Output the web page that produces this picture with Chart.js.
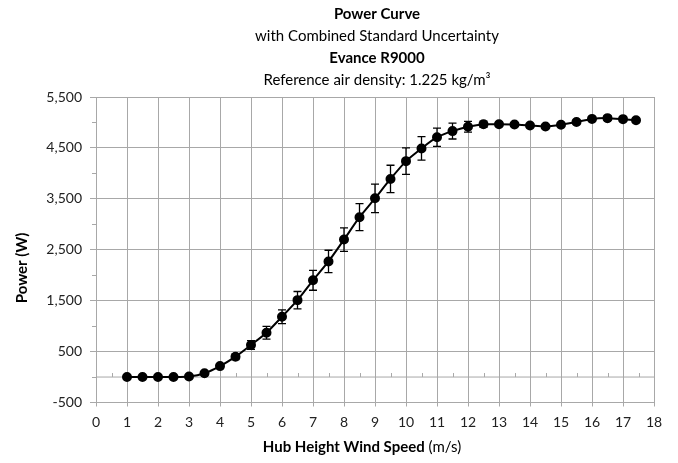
<!DOCTYPE html>
<html>
<head>
<meta charset="utf-8">
<script src="https://cdn.jsdelivr.net/npm/chart.js@4"></script>
<style>
  html, body { margin: 0; padding: 0; background: #fff; }
  canvas { display: block; }
</style>
</head>
<body>
<canvas id="chart" width="678" height="463"></canvas>
<script>
// wind speed bins (m/s)
const windSpeed = [1, 1.5, 2, 2.5, 3, 3.5, 4, 4.5, 5, 5.5, 6, 6.5, 7, 7.5, 8, 8.5, 9, 9.5,
    10, 10.5, 11, 11.5, 12, 12.5, 13, 13.5, 14, 14.5, 15, 15.5, 16, 16.5, 17, 17.42];
// measured power (W)
const power = [0, 0, 0, 0, 10, 75, 215, 400, 630, 870, 1185, 1510, 1900, 2270, 2700, 3140, 3510, 3890,
    4240, 4490, 4710, 4830, 4915, 4965, 4965, 4960, 4940, 4920, 4955, 5010, 5070, 5085, 5065, 5045];
// combined standard uncertainty (W)
const uncertainty = [5, 5, 5, 5, 10, 20, 35, 55, 85, 125, 135, 170, 195, 220, 230, 265, 280, 270,
    260, 230, 180, 155, 105, 60, 40, 35, 30, 30, 30, 35, 40, 45, 35, 40];

const titleLines = [
    { text: 'Power Curve', bold: true },
    { text: 'with Combined Standard Uncertainty', bold: false },
    { text: 'Evance R9000', bold: true },
    { text: 'Reference air density: 1.225 kg/m³', bold: false }
];
const yTitle = 'Power (W)';
const xTitleBold = 'Hub Height Wind Speed';
const xTitleUnit = ' (m/s)';

const FONT = 'Lato, "Open Sans", sans-serif';
const GRID = '#a8a8a8';

const points = windSpeed.map((x, i) => ({ x: x, y: power[i] }));

// error bars, zero line, minor ticks and the text around the plot
const decorations = {
    id: 'decorations',
    beforeDatasetsDraw(chart) {
        const c = chart.ctx;
        const xs = chart.scales.x, ys = chart.scales.y;
        const area = chart.chartArea;
        c.save();
        // x axis crossing at 0
        const y0 = ys.getPixelForValue(0);
        c.strokeStyle = GRID;
        c.lineWidth = 1;
        c.beginPath();
        c.moveTo(area.left, y0);
        c.lineTo(area.right, y0);
        for (let v = 0.5; v < 18; v += 1) {
            const px = Math.round(xs.getPixelForValue(v)) + 0.5;
            c.moveTo(px, y0);
            c.lineTo(px, y0 - 4);
        }
        // minor ticks on y axis
        for (let v = 0; v <= 5000; v += 1000) {
            const py = Math.round(ys.getPixelForValue(v)) + 0.5;
            c.moveTo(area.left - 4, py);
            c.lineTo(area.left, py);
        }
        c.stroke();

        // error bars
        c.strokeStyle = '#000';
        c.lineWidth = 1.3;
        c.beginPath();
        windSpeed.forEach((x, i) => {
            const px = xs.getPixelForValue(x);
            const top = ys.getPixelForValue(power[i] + uncertainty[i]);
            const bot = ys.getPixelForValue(power[i] - uncertainty[i]);
            c.moveTo(px, top); c.lineTo(px, bot);
            c.moveTo(px - 4, top); c.lineTo(px + 4, top);
            c.moveTo(px - 4, bot); c.lineTo(px + 4, bot);
        });
        c.stroke();
        c.restore();
    },
    afterDraw(chart) {
        const c = chart.ctx;
        c.save();
        c.fillStyle = '#000';
        c.textAlign = 'center';
        c.textBaseline = 'alphabetic';
        const baselines = [19, 41, 63, 85];
        titleLines.forEach((l, i) => {
            c.font = (l.bold ? 'bold ' : '') + '15px ' + FONT;
            c.fillText(l.text, 377, baselines[i]);
        });

        // y axis title
        c.font = 'bold 15px ' + FONT;
        c.translate(22, 268);
        c.rotate(-Math.PI / 2);
        c.textBaseline = 'middle';
        c.fillText(yTitle, 0, 0);
        c.setTransform(1, 0, 0, 1, 0, 0);

        // x axis title with mixed weights
        c.textAlign = 'left';
        c.textBaseline = 'alphabetic';
        c.font = 'bold 15px ' + FONT;
        const wb = c.measureText(xTitleBold).width;
        c.font = '15px ' + FONT;
        const wu = c.measureText(xTitleUnit).width;
        const start = 362 - (wb + wu) / 2;
        c.font = 'bold 15px ' + FONT;
        c.fillText(xTitleBold, start, 452);
        c.font = '15px ' + FONT;
        c.fillText(xTitleUnit, start + wb, 452);
        c.restore();
    }
};

const chart = new Chart(document.getElementById('chart').getContext('2d'), {
    type: 'scatter',
    data: {
        datasets: [{
            data: points,
            showLine: true,
            borderColor: '#000',
            backgroundColor: '#000',
            borderWidth: 2,
            pointRadius: 4,
            pointHoverRadius: 4,
            tension: 0.2
        }]
    },
    options: {
        responsive: false,
        animation: false,
        events: [],
        layout: { padding: { top: 97, right: 24, bottom: 0, left: 0 } },
        plugins: {
            legend: { display: false },
            tooltip: { enabled: false }
        },
        scales: {
            x: {
                type: 'linear',
                min: 0,
                max: 18,
                afterFit(scale) { scale.height = 60.5; },
                ticks: {
                    stepSize: 1,
                    padding: 8,
                    color: '#222',
                    font: { family: FONT, size: 14 },
                    maxRotation: 0
                },
                grid: { color: GRID, lineWidth: 1, tickLength: 4 },
                border: { color: GRID, width: 1 }
            },
            y: {
                min: -500,
                max: 5500,
                afterFit(scale) { scale.width = 96; },
                ticks: {
                    stepSize: 1000,
                    padding: 8,
                    color: '#222',
                    font: { family: FONT, size: 14 },
                    callback: v => v.toLocaleString('en-US')
                },
                grid: { color: GRID, lineWidth: 1, tickLength: 6 },
                border: { color: GRID, width: 1 }
            }
        }
    },
    plugins: [decorations]
});
</script>
</body>
</html>
